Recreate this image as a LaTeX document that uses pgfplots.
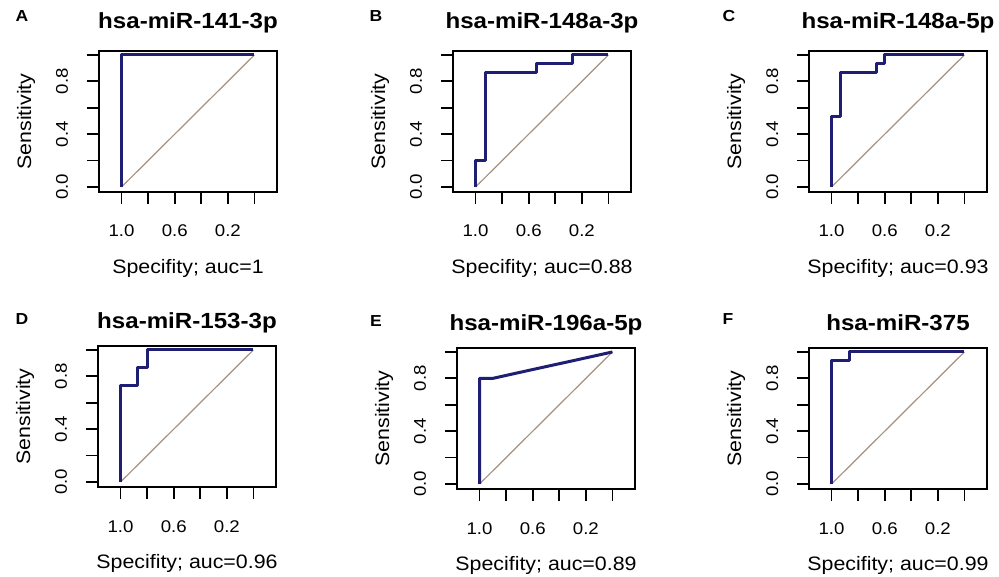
\documentclass[border=0pt]{standalone}
\usepackage{pgfplots}
\pgfplotsset{compat=1.18}
\usepackage{fontspec}
\setmainfont{Liberation Sans}[FakeStretch=1.1]
\definecolor{roc}{RGB}{30,30,115}
\definecolor{diag}{RGB}{165,145,130}
\pgfplotsset{
  rocaxis/.style={
    width=178bp, height=141bp, scale only axis,
    anchor=south west,
    x dir=reverse, xmin=-0.17, xmax=1.17, ymin=-0.038, ymax=1.03,
    axis line style={line width=1.8bp},
    every tick/.style={black, line width=1.8bp},
    major tick length=12bp,
    tick align=outside,
    xtick pos=bottom, ytick pos=left,
    xtick={0,0.2,0.4,0.6,0.8,1}, xticklabels={,0.2,,0.6,,1.0},
    ytick={0,0.2,0.4,0.6,0.8,1}, yticklabels={0.0,,0.4,,0.8,},
    /pgf/number format/assume math mode=true,
    tick label style={font=\fontsize{17}{17}\selectfont},
    xticklabel style={anchor=base, yshift=-33bp},
    yticklabel style={rotate=90, anchor=base, yshift=19bp},
    title style={anchor=base, font=\bfseries\fontsize{22}{22}\selectfont},
    xlabel style={at={(axis description cs:0.5,-0.575)}, anchor=base, font=\fontsize{19.5}{19.5}\selectfont},
    ylabel style={at={(axis description cs:-0.41,0.5)}, anchor=center, font=\fontsize{19.5}{19.5}\selectfont},
    ylabel={Sensitivity},
    clip=false,
  },
  rocline/.style={color=roc, line width=3bp, line join=round, no markers},
  diagline/.style={color=diag, line width=1.2bp, no markers},
}
\begin{document}
\begin{tikzpicture}
\useasboundingbox (0bp,0bp) rectangle (999bp,577bp);
% A
\begin{axis}[rocaxis, at={(99bp,385bp)}, title={hsa-miR-141-3p},
  title style={at={(axis description cs:0.5,1.115)}},
  xlabel={Specifity; auc=1}]
\addplot[diagline] coordinates {(1,0) (0,1)};
\addplot[rocline] coordinates {(1,0) (1,1) (0,1)};
\end{axis}
% B
\begin{axis}[rocaxis, at={(453bp,385bp)}, title={hsa-miR-148a-3p},
  title style={at={(axis description cs:0.5,1.115)}},
  xlabel={Specifity; auc=0.88}]
\addplot[diagline] coordinates {(1,0) (0,1)};
\addplot[rocline] coordinates {(1,0) (1,0.2) (0.925,0.2) (0.925,0.867) (0.54,0.867) (0.54,0.933) (0.27,0.933) (0.27,1) (0,1)};
\end{axis}
% C
\begin{axis}[rocaxis, at={(809bp,385bp)}, title={hsa-miR-148a-5p},
  title style={at={(axis description cs:0.5,1.115)}},
  xlabel={Specifity; auc=0.93}]
\addplot[diagline] coordinates {(1,0) (0,1)};
\addplot[rocline] coordinates {(1,0) (1,0.533) (0.93,0.533) (0.93,0.867) (0.66,0.867) (0.66,0.933) (0.6,0.933) (0.6,1) (0,1)};
\end{axis}
% D
\begin{axis}[rocaxis, at={(98bp,90bp)}, title={hsa-miR-153-3p},
  title style={at={(axis description cs:0.5,1.085)}},
  xlabel={Specifity; auc=0.96}]
\addplot[diagline] coordinates {(1,0) (0,1)};
\addplot[rocline] coordinates {(1,0) (1,0.733) (0.87,0.733) (0.87,0.867) (0.8,0.867) (0.8,1) (0,1)};
\end{axis}
% E
\begin{axis}[rocaxis, at={(457bp,88bp)}, title={hsa-miR-196a-5p},
  title style={at={(axis description cs:0.5,1.085)}},
  xlabel={Specifity; auc=0.89}]
\addplot[diagline] coordinates {(1,0) (0,1)};
\addplot[rocline] coordinates {(1,0) (1,0.8) (0.9,0.8) (0.6,0.867) (0.3,0.933) (0,1)};
\end{axis}
% F
\begin{axis}[rocaxis, at={(809bp,88bp)}, title={hsa-miR-375},
  title style={at={(axis description cs:0.5,1.085)}},
  xlabel={Specifity; auc=0.99}]
\addplot[diagline] coordinates {(1,0) (0,1)};
\addplot[rocline] coordinates {(1,0) (1,0.933) (0.865,0.933) (0.865,1) (0,1)};
\end{axis}
% panel letters
\begin{scope}[every node/.style={font=\bfseries\fontsize{16}{16}\selectfont, anchor=center}]
\node at (22bp,561bp) {A};
\node at (376bp,561bp) {B};
\node at (729bp,561bp) {C};
\node at (22bp,258bp) {D};
\node at (376bp,256bp) {E};
\node at (728bp,258bp) {F};
\end{scope}
\end{tikzpicture}
\end{document}
